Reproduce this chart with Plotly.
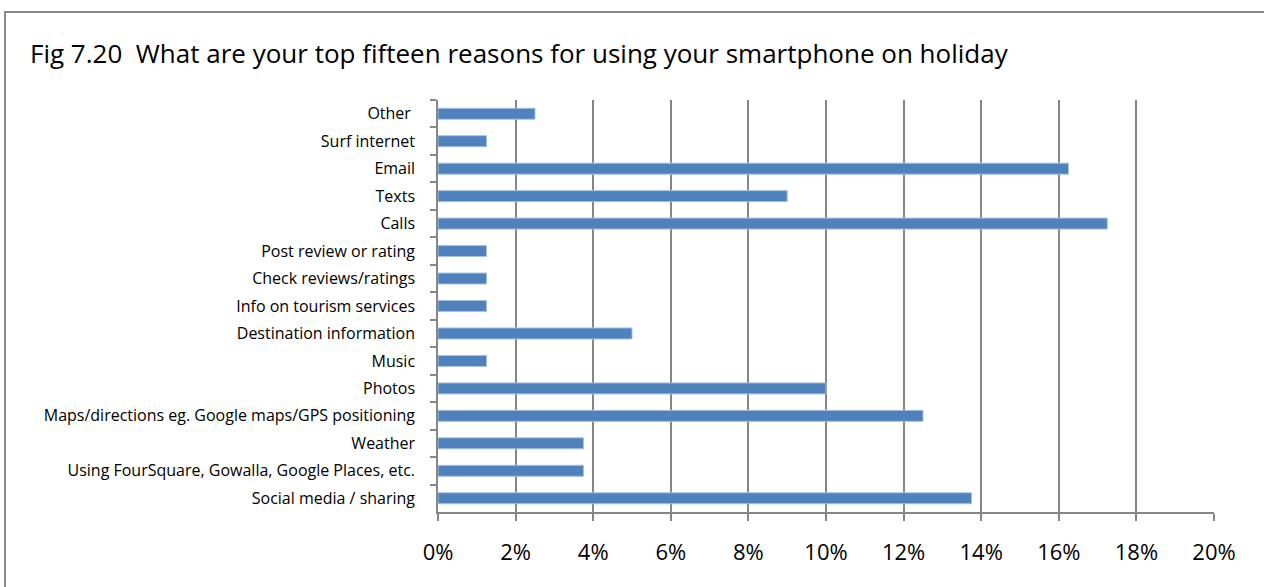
import plotly.graph_objects as go

categories = [
    "Other ",
    "Surf internet",
    "Email",
    "Texts",
    "Calls",
    "Post review or rating",
    "Check reviews/ratings",
    "Info on tourism services",
    "Destination information",
    "Music",
    "Photos",
    "Maps/directions eg. Google maps/GPS positioning",
    "Weather",
    "Using FourSquare, Gowalla, Google Places, etc.",
    "Social media / sharing",
]
values = [2.5, 1.25, 16.25, 9.0, 17.25, 1.25, 1.25, 1.25, 5.0, 1.25, 10.0, 12.5, 3.75, 3.75, 13.75]
x_ticks = [0, 2, 4, 6, 8, 10, 12, 14, 16, 18, 20]
x_tick_labels = [f"{v}%" for v in x_ticks]
title_text = "Fig 7.20&nbsp;&nbsp;What are your top fifteen reasons for using your smartphone on holiday"

W, H = 1264, 587
L, R, T, B = 438, 1214, 100, 512
FONT = "Open Sans"

fig = go.Figure(
    go.Bar(
        x=values,
        y=categories,
        orientation="h",
        marker=dict(color="#4F81BD", line=dict(color="#A7C0DE", width=1)),
        width=0.4,
    )
)

grid = "#868686"
fig.update_layout(
    width=W,
    height=H,
    margin=dict(l=L, r=W - R, t=T, b=H - B, pad=0),
    paper_bgcolor="white",
    plot_bgcolor="white",
    showlegend=False,
    font=dict(family=FONT, color="#000000"),
    title=dict(
        text=title_text,
        x=30 / W,
        xanchor="left",
        xref="container",
        yref="container",
        y=1 - 54 / H,
        yanchor="middle",
        font=dict(family=FONT, size=26, color="#000000"),
    ),
    xaxis=dict(
        range=[0, 20],
        tickvals=x_ticks,
        ticktext=x_tick_labels,
        showgrid=True,
        gridcolor=grid,
        gridwidth=1.5,
        showline=True,
        linecolor=grid,
        linewidth=1.5,
        ticks="outside",
        ticklen=7,
        tickcolor=grid,
        tickwidth=1.5,
        ticklabelstandoff=13,
        tickfont=dict(family=FONT, size=22, color="#000000"),
        zeroline=False,
        fixedrange=True,
    ),
    yaxis=dict(
        autorange="reversed",
        showgrid=False,
        showline=True,
        linecolor=grid,
        linewidth=1.5,
        ticks="outside",
        tickson="boundaries",
        ticklen=6,
        tickcolor=grid,
        tickwidth=1.5,
        ticklabelstandoff=18,
        tickfont=dict(family=FONT, size=16, color="#000000"),
        fixedrange=True,
    ),
    shapes=[
        dict(
            type="rect",
            xref="paper",
            yref="paper",
            x0=(5 - L) / (R - L),
            x1=(1275 - L) / (R - L),
            y0=(B - 600) / (B - T),
            y1=(B - 12) / (B - T),
            line=dict(color="#898989", width=2),
            fillcolor="rgba(0,0,0,0)",
            layer="below",
        )
    ],
)

fig.write_html("out.html")
